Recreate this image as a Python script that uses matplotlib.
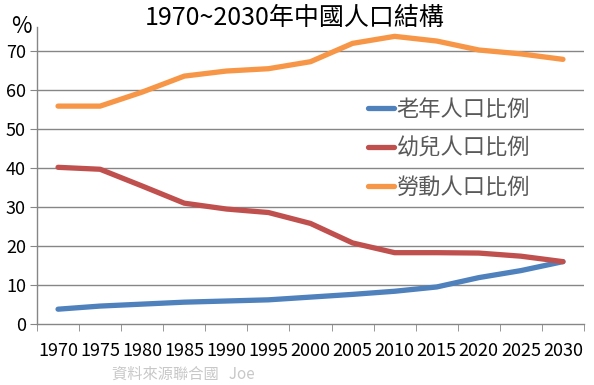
import matplotlib.pyplot as plt
import numpy as np

plt.rcParams['font.family'] = ['Noto Sans CJK TC', 'DejaVu Sans']

years = ['1970', '1975', '1980', '1985', '1990', '1995', '2000',
         '2005', '2010', '2015', '2020', '2025', '2030']
elderly = [3.8, 4.6, 5.1, 5.6, 5.9, 6.2, 6.9, 7.6, 8.4, 9.5, 11.9, 13.7, 16.0]
children = [40.2, 39.7, 35.4, 31.0, 29.5, 28.6, 25.8, 20.8, 18.3, 18.3, 18.2, 17.4, 16.0]
workers = [55.9, 55.9, 59.5, 63.6, 64.9, 65.5, 67.3, 72.0, 73.8, 72.6, 70.3, 69.3, 67.9]

labels = ['老年人口比例', '幼兒人口比例', '勞動人口比例']
colors = ['#4F81BD', '#C0504D', '#F79646']

fig = plt.figure(figsize=(5.94, 3.85), dpi=100)
ax = fig.add_axes([37/594, 61/385, 547/594, 297/385])

x = np.arange(len(years))
for vals, lab, c in zip([elderly, children, workers], labels, colors):
    ax.plot(x, vals, color=c, lw=3.8, label=lab, solid_capstyle='round')

ax.set_xlim(-0.5, len(years) - 0.5)
ax.set_ylim(0, 76.2)
ax.set_yticks(range(0, 80, 10))
ax.set_xticks(x)
ax.set_xticklabels(years)
ax.set_xticks(np.arange(-0.5, len(years)), minor=True)

gray = '#868686'
for v in range(10, 80, 10):
    ax.axhline(v, color=gray, lw=1, zorder=0)
for s in ['top', 'right']:
    ax.spines[s].set_visible(False)
for s in ['left', 'bottom']:
    ax.spines[s].set_color(gray)
    ax.spines[s].set_linewidth(1)

ax.tick_params(axis='x', which='major', length=0, labelsize=13, pad=13)
ax.tick_params(axis='x', which='minor', length=5, color=gray, direction='out')
ax.tick_params(axis='y', length=5, color=gray, labelsize=13, pad=3)

leg = ax.legend(loc='upper left', bbox_to_anchor=(0.568, 0.83), frameon=False,
                fontsize=16, handlelength=1.2, handletextpad=0.1,
                labelspacing=0.72, labelcolor='#595959')

fig.text(0.243, 0.953, '1970~2030年中國人口結構', ha='left', va='center',
         fontsize=18)
fig.text(0.036, 0.93, '%', ha='center', va='center', fontsize=16)
fig.text(0.188, 0.028, '資料來源聯合國   Joe', ha='left', va='center',
         fontsize=11, color='#C8C8C8')

fig.savefig('out.png', dpi=100)
